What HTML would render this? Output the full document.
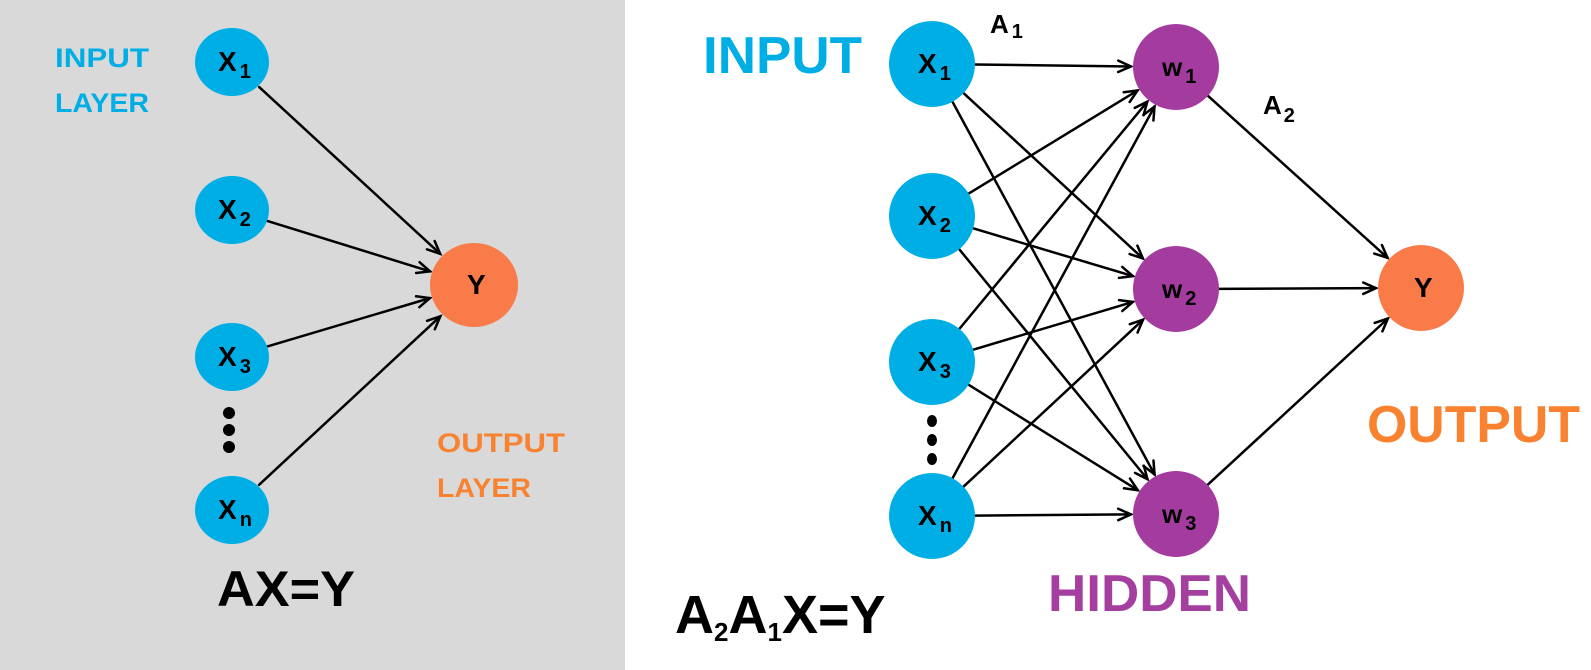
<!DOCTYPE html>
<html><head><meta charset="utf-8"><style>
html,body{margin:0;padding:0;background:#fff;}
svg{display:block;font-family:"Liberation Sans",sans-serif;font-weight:bold;}
</style></head><body>
<svg id="s" width="1591" height="670" viewBox="0 0 1591 670">
<rect x="0" y="0" width="625" height="670" fill="#d9d9d9"/>
<g id="edges"></g>
<g id="nodes"></g>
<g fill="#000">
<circle cx="229" cy="413" r="6"/>
<circle cx="229" cy="430" r="6"/>
<circle cx="229" cy="447" r="6"/>
<ellipse cx="932" cy="421" rx="5" ry="6"/>
<ellipse cx="932" cy="440" rx="5" ry="6"/>
<ellipse cx="932" cy="459" rx="5" ry="6"/>
</g>
<g fill="#00aee6" font-size="27">
<text x="55" y="67" textLength="94" lengthAdjust="spacingAndGlyphs">INPUT</text>
<text x="55" y="112" textLength="94" lengthAdjust="spacingAndGlyphs">LAYER</text>
<text x="703" y="73" font-size="52" textLength="159" lengthAdjust="spacingAndGlyphs">INPUT</text>
</g>
<g fill="#f98230" font-size="27">
<text x="437" y="452" textLength="128" lengthAdjust="spacingAndGlyphs">OUTPUT</text>
<text x="437" y="497" textLength="94" lengthAdjust="spacingAndGlyphs">LAYER</text>
<text x="1367" y="442" font-size="52" textLength="213" lengthAdjust="spacingAndGlyphs">OUTPUT</text>
</g>
<text x="1048" y="611" font-size="52" fill="#a43e9f" textLength="203" lengthAdjust="spacingAndGlyphs">HIDDEN</text>
<text x="217" y="606" font-size="50" fill="#000" textLength="138" lengthAdjust="spacingAndGlyphs">AX=Y</text>
<text x="675" y="633" font-size="54" fill="#000"><tspan>A</tspan><tspan font-size="26" dy="8">2</tspan><tspan dy="-8">A</tspan><tspan font-size="26" dy="8">1</tspan><tspan dy="-8">X=Y</tspan></text>
<text x="990" y="33" font-size="26" fill="#000">A<tspan font-size="20" dx="3" dy="5">1</tspan></text>
<text x="1263" y="114" font-size="26" fill="#000">A<tspan font-size="20" dx="2" dy="8">2</tspan></text>
</svg>
<script>
const leftInputs = [["X","1",62],["X","2",210],["X","3",357],["X","n",510]];
const leftOut = [474,285];
const rightInputs = [["X","1",64],["X","2",216],["X","3",362],["X","n",516]];
const hiddenNodes = [["w","1",67],["w","2",289],["w","3",514]];
const rightOut = [1421,288];
const NS="http://www.w3.org/2000/svg";
const E=document.getElementById('edges'), N=document.getElementById('nodes');
function mk(t,a,p){const e=document.createElementNS(NS,t);for(const k in a)e.setAttribute(k,a[k]);p.appendChild(e);return e;}
function arrow(x1,y1,r1,x2,y2,r2,w){
  const dx=x2-x1,dy=y2-y1,L=Math.hypot(dx,dy),ux=dx/L,uy=dy/L;
  const sx=x1+ux*r1,sy=y1+uy*r1,ex=x2-ux*(r2+2),ey=y2-uy*(r2+2);
  const g=mk('g',{stroke:'#000','stroke-width':w,fill:'none','stroke-linecap':'round'},E);
  
  
  mk('line',{x1:sx,y1:sy,x2:ex,y2:ey},g);
  const h=14,a=0.42,c=Math.cos(a),s=Math.sin(a);
  const p1=[ex-h*(ux*c-uy*s),ey-h*(uy*c+ux*s)],p2=[ex-h*(ux*c+uy*s),ey-h*(uy*c-ux*s)];
  mk('polyline',{points:`${p1} ${ex},${ey} ${p2}`},g);
}
function node(cx,cy,rx,ry,fill,lab,sub,name){
  const g=mk('g',{},N);
  
  
  mk('ellipse',{cx,cy,rx,ry,fill},g);
  const t=mk('text',{x:cx-(sub?14:7),y:cy+9,'font-size':lab==='w'?26:28,fill:'#000'},g);
  t.textContent=lab;
  if(sub){const ts=mk('tspan',{'font-size':20,dx:3,dy:7},t);ts.textContent=sub;}
}
leftInputs.forEach(n=>arrow(232,n[2],37,leftOut[0],leftOut[1],44,2.5));
rightInputs.forEach(n=>hiddenNodes.forEach(h=>arrow(932,n[2],43,1176,h[2],43,2.5)));
hiddenNodes.forEach(h=>arrow(1176,h[2],43,rightOut[0],rightOut[1],43,2.5));
leftInputs.forEach(n=>node(232,n[2],37,34,'#00aee6',n[0],n[1],'input-node'));
node(leftOut[0],leftOut[1],44,42,'#f97b4a','Y','','output-node');
rightInputs.forEach(n=>node(932,n[2],43,43,'#00aee6',n[0],n[1],'input-node'));
hiddenNodes.forEach(n=>node(1176,n[2],43,43,'#a43c9f',n[0],n[1],'hidden-node'));
node(rightOut[0],rightOut[1],43,43,'#f97b4a','Y','','output-node');
</script>
</body></html>
